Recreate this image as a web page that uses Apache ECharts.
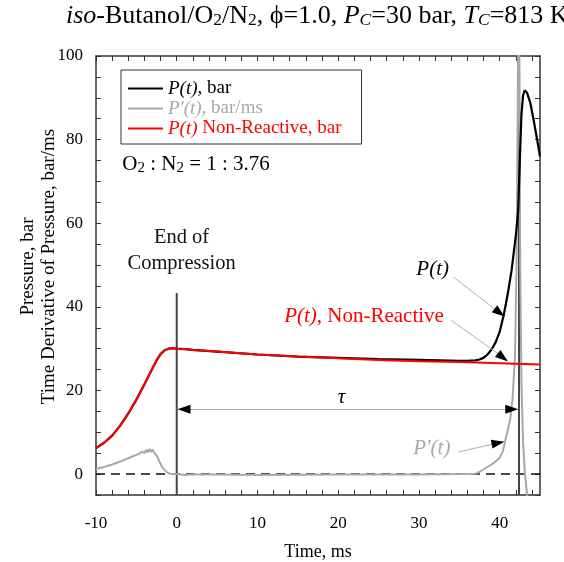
<!DOCTYPE html>
<html><head><meta charset="utf-8">
<script src="https://cdn.jsdelivr.net/npm/echarts@6/dist/echarts.min.js"></script>
<style>html,body{margin:0;padding:0;background:#fff}#c{width:564px;height:562px}</style>
</head><body><div id="c"></div>
<script>
// ---- data ----
const xTickLabels = [-10, 0, 10, 20, 30, 40];
const xTickMarks = [-10,-8,-6,-4,-2,0,2,4,6,8,10,12,14,16,18,20,22,24,26,28,30,32,34,36,38,40,42,44];
const yTickLabels = [0, 20, 40, 60, 80, 100];
const yTickMarks = [-5,0,5,10,15,20,25,30,35,40,45,50,55,60,65,70,75,80,85,90,95,100];

// Non-reactive pressure, bar
const tNR = [-10,-9,-8,-7,-6,-5,-4,-3,-2.5,-2,-1.5,-1,-0.5,0,1,2,5,10,15,20,25,30,35,40,45];
const pNR = [6.2,7.5,9.2,11.6,14.5,17.8,21.5,25.3,27.2,28.7,29.6,30.0,30.1,30.0,29.9,29.7,29.3,28.6,28.1,27.7,27.3,27.0,26.8,26.5,26.2];

// Reactive pressure, bar
const tP = [-10,-9,-8,-7,-6,-5,-4,-3,-2.5,-2,-1.5,-1,-0.5,0,1,2,5,10,15,20,25,30,35,36,37,37.5,38,38.5,39,39.5,40,40.5,41,41.5,42,42.3,42.5,42.7,42.9,43.1,43.4,43.8,44.2,44.6,45];
const pP = [6.2,7.5,9.2,11.6,14.5,17.8,21.5,25.3,27.2,28.7,29.6,30.0,30.1,30.0,29.9,29.7,29.3,28.6,28.1,27.8,27.5,27.3,27.1,27.1,27.2,27.4,27.8,28.6,29.8,31.5,34.0,38.0,43.0,49.0,57.0,63.0,75.0,86.0,90.5,91.8,91.2,88.8,84.8,80.5,76.0];

// Time derivative of pressure, bar/ms
const tDP = [-10,-9,-8,-7,-6,-5.5,-5,-4.6,-4.3,-4.0,-3.8,-3.6,-3.4,-3.2,-3.0,-2.8,-2.6,-2.4,-2.2,-2.0,-1.8,-1.6,-1.4,-1.2,-1.0,-0.8,-0.5,0,1,2,5,10,20,30,35,37,37.5,38,38.5,39,39.5,40,40.4,40.7,41,41.3,41.6,41.9,42.1,42.25,42.35,42.45,42.55,42.7,42.9,43.1,43.3,43.5];
const dP = [1.2,1.7,2.3,3.0,3.8,4.2,4.6,4.9,5.4,5.0,5.8,5.2,6.0,5.3,5.9,5.1,5.0,4.2,3.2,2.4,1.7,1.2,0.8,0.4,0.2,0.1,0.05,0,-0.2,-0.1,-0.1,-0.2,-0.1,-0.1,0,0.1,0.5,1.1,1.7,2.3,3.0,3.9,5.5,8.0,10.5,13.0,18.0,28.0,50.0,90.0,130.0,100.0,50.0,22.0,8.0,1.0,-3.0,-7.0];

const zeroLineT = [-10, 45];
const eocT = 0, eocTop = 43.3;       // end of compression marker
const ignT = 42.4;                    // ignition marker
const tauLevel = 15.5;                // tau arrow level

const FONT = '"Liberation Serif","Times New Roman",serif';
const zip = (a, b) => a.map((v, i) => [v, b[i]]);

const chart = echarts.init(document.getElementById('c'), null, {renderer: 'canvas'});

const N1 = 'P(t), bar', N2 = "P'(t), bar/ms", N3 = 'P(t) Non-Reactive, bar';
const legendFmt = {};
legendFmt[N1] = '{ib|P(t)}{nb|, bar}';
legendFmt[N2] = "{ig|P'(t)}{ng|, bar/ms}";
legendFmt[N3] = '{ir|P(t)}{nr| Non-Reactive, bar}';
const lr = (c, it) => ({color: c, fontFamily: FONT, fontSize: 19, lineHeight: 21, fontWeight: 'normal', fontStyle: it ? 'italic' : 'normal'});

const tickCommon = {show: true, inside: true, length: 5, lineStyle: {color: '#333', width: 1}};
const axisLineCommon = {show: true, onZero: false, lineStyle: {color: '#333', width: 1.5}};
const tt = (size, lh, it) => ({fontFamily: FONT, fontSize: size, color: '#000', lineHeight: lh, verticalAlign: 'bottom', fontWeight: 'normal', fontStyle: it ? 'italic' : 'normal'});

const option = {
  animation: false,
  backgroundColor: '#fff',
  title: {
    left: 66, top: 0, padding: 0,
    text: '{i|iso}{n|-Butanol/O}{s|2}{n|/N}{s|2}{n|, ϕ=1.0, }{i|P}{si|C}{n|=30 bar, }{i|T}{si|C}{n|=813 K}',
    textStyle: {
      fontWeight: 'normal',
      rich: {n: tt(26, 29, false), i: tt(26, 29, true), s: tt(17.5, 10, false), si: tt(17.5, 10, true)}
    }
  },
  grid: {left: 96, right: 24, top: 56, bottom: 67, containLabel: false, outerBoundsMode: 'none'},
  legend: {
    orient: 'vertical', left: 121, top: 70,
    padding: [9, 20, 6, 7], itemGap: 1,
    borderColor: '#333', borderWidth: 1, backgroundColor: '#fff',
    icon: 'rect', itemWidth: 35, itemHeight: 2,
    data: [N1, N2, N3],
    formatter: name => legendFmt[name],
    textStyle: {
      fontFamily: FONT, fontSize: 19,
      rich: {ib: lr('#000', true), nb: lr('#000', false), ig: lr('#a8a8a8', true), ng: lr('#a8a8a8', false), ir: lr('#ff0000', true), nr: lr('#ff0000', false)}
    }
  },
  xAxis: [{
    type: 'value', min: -10, max: 45, interval: 10,
    name: 'Time, ms', nameLocation: 'middle', nameGap: 48, nameMoveOverlap: false,
    nameTextStyle: {fontFamily: FONT, fontSize: 18, color: '#000'},
    axisLine: axisLineCommon,
    axisTick: Object.assign({customValues: xTickMarks}, tickCommon),
    axisLabel: {customValues: xTickLabels, margin: 20, fontFamily: FONT, fontSize: 17, color: '#000'},
    splitLine: {show: false}
  }, {
    type: 'value', min: -10, max: 45, interval: 10, position: 'top',
    axisLine: axisLineCommon,
    axisTick: Object.assign({customValues: xTickMarks}, tickCommon),
    axisLabel: {show: false}, splitLine: {show: false}
  }],
  yAxis: [{
    type: 'value', min: -5, max: 100,
    name: 'Pressure, bar\nTime Derivative of Pressure, bar/ms', nameLocation: 'middle', nameGap: 36, nameMoveOverlap: false,
    nameTextStyle: {fontFamily: FONT, fontSize: 19, color: '#000', lineHeight: 21, padding: [0, 0, 0, 18]},
    axisLine: axisLineCommon,
    axisTick: Object.assign({customValues: yTickMarks}, tickCommon),
    axisLabel: {customValues: yTickLabels, margin: 13, fontFamily: FONT, fontSize: 17, color: '#000'},
    splitLine: {show: false}
  }, {
    type: 'value', min: -5, max: 100, position: 'right',
    axisLine: axisLineCommon,
    axisTick: Object.assign({customValues: yTickMarks}, tickCommon),
    axisLabel: {show: false}, splitLine: {show: false}
  }],
  series: [
    {name: 'zero', type: 'line', data: zip(zeroLineT, [0, 0]), symbol: 'none', z: 1, silent: true,
     lineStyle: {color: '#111', width: 1.5, type: [9, 6]}},
    {name: 'eoc', type: 'line', data: [[eocT, -5], [eocT, eocTop]], symbol: 'none', z: 2, silent: true,
     lineStyle: {color: '#444', width: 2}},
    {name: 'ign', type: 'line', data: [[ignT, -5], [ignT, 100]], symbol: 'none', z: 2, silent: true,
     lineStyle: {color: '#444', width: 2}},
    {name: N2, type: 'line', data: zip(tDP, dP), symbol: 'none', z: 3, color: '#a8a8a8',
     lineStyle: {color: '#a8a8a8', width: 2}},
    {name: N1, type: 'line', data: zip(tP, pP), symbol: 'none', z: 4, color: '#000',
     lineStyle: {color: '#000', width: 2.2}},
    {name: N3, type: 'line', data: zip(tNR, pNR), symbol: 'none', z: 5, color: '#ff0000',
     lineStyle: {color: '#ff0000', width: 2}},
    {name: 'arrowLines', type: 'line', data: [], z: 6, silent: true,
     markLine: {silent: true, symbol: ['none', 'none'], label: {show: false}, animation: false,
       lineStyle: {color: '#b0b0b0', width: 1, type: 'solid'},
       data: [
         [{coord: [34.3, 47.1]}, {coord: [40.4, 38.0]}],
         [{coord: [34.0, 36.8]}, {coord: [40.9, 27.3]}],
         [{coord: [34.9, 5.3]}, {coord: [40.4, 7.7]}],
         [{coord: [0.1, tauLevel]}, {coord: [42.3, tauLevel]}]
       ]}},
    {name: 'arrowHeads', type: 'line', data: [], z: 7, silent: true,
     markLine: {silent: true, symbol: ['none', 'triangle'], symbolSize: [9, 13], label: {show: false}, animation: false,
       lineStyle: {color: '#000', width: 1, type: 'solid'},
       data: [
         [{coord: [39.6, 39.2]}, {coord: [40.0, 38.6]}],
         [{coord: [40.0, 28.5]}, {coord: [40.4, 27.9]}],
         [{coord: [39.4, 7.3]}, {coord: [39.8, 7.45]}],
         [{coord: [1.5, tauLevel]}, {coord: [0.9, tauLevel]}],
         [{coord: [40.8, tauLevel]}, {coord: [41.5, tauLevel]}]
       ]}}
  ]
};
chart.setOption(option);

const px = (t, v) => chart.convertToPixel({xAxisIndex: 0, yAxisIndex: 0}, [t, v]);
const txt = (t, v, style) => { const p = px(t, v); return {type: 'text', x: p[0], y: p[1], z: 100, style: Object.assign({align: 'center', verticalAlign: 'middle', fontFamily: FONT}, style)}; };
const sub = {fontFamily: FONT, fontSize: 15, lineHeight: 9, verticalAlign: 'bottom', fill: '#000'};
const base = {fontFamily: FONT, fontSize: 21, lineHeight: 25, verticalAlign: 'bottom', fill: '#000'};

chart.setOption({
  graphic: [
    txt(0.6, 53.4, {text: 'End of\nCompression', fontSize: 20.5, lineHeight: 26, fill: '#111'}),
    txt(20.4, 18.4, {text: 'τ', fontSize: 21, fontStyle: 'italic', fill: '#000'}),
    txt(31.7, 49.0, {text: 'P(t)', fontSize: 21, fontStyle: 'italic', fill: '#000'}),
    txt(23.2, 37.8, {text: '{i|P(t)}{n|, Non-Reactive}', rich: {
      i: {fontFamily: FONT, fontSize: 21, fontStyle: 'italic', fill: '#ff0000'},
      n: {fontFamily: FONT, fontSize: 21, fill: '#ff0000'}}}),
    txt(31.6, 6.2, {text: "P'(t)", fontSize: 21, fontStyle: 'italic', fill: '#a8a8a8'}),
    (function () { const p = px(-6.75, 74.5); return {type: 'text', x: p[0], y: p[1], z: 100,
      style: {align: 'left', verticalAlign: 'middle', text: '{n|O}{s|2}{n| : N}{s|2}{n| = 1 : 3.76}', rich: {n: base, s: sub}}}; })()
  ]
});
</script>
</body></html>
